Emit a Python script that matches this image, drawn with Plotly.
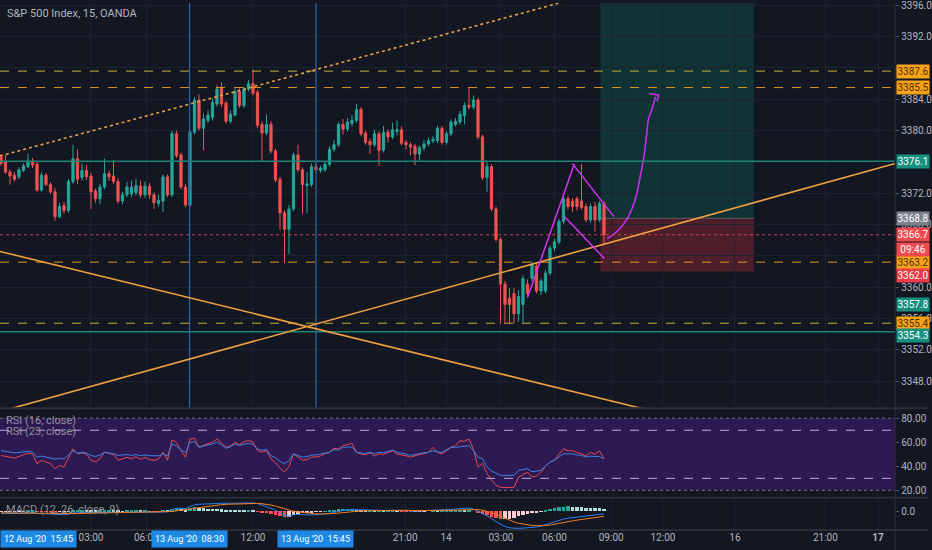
import plotly.graph_objects as go

# ---- OHLC, 15 min bars (bar index on x) ----
opens = [3376.6, 3376.0, 3374.7, 3374.3, 3374.1, 3374.9, 3375.4, 3376.1, 3375.7, 3372.4,
         3374.3, 3373.1, 3372.2, 3369.0, 3370.4, 3369.8, 3373.5, 3376.4, 3374.0, 3374.9,
         3374.2, 3372.3, 3371.3, 3372.8, 3374.5, 3374.2, 3373.5, 3371.0, 3371.8, 3371.9,
         3372.1, 3372.9, 3371.8, 3372.9, 3371.8, 3370.7, 3371.0, 3374.1, 3371.8, 3379.6,
         3376.9, 3372.8, 3370.5, 3379.8, 3383.9, 3380.3, 3381.3, 3381.7, 3383.4, 3385.5,
         3383.5, 3381.2, 3382.0, 3385.0, 3383.2, 3385.3, 3386.0, 3384.9, 3380.8, 3379.7,
         3380.8, 3377.4, 3373.8, 3369.5, 3367.4, 3370.0, 3376.9, 3375.0, 3373.0, 3373.1,
         3375.4, 3374.9, 3375.0, 3375.7, 3377.6, 3378.2, 3380.8, 3380.2, 3380.9, 3381.3,
         3382.7, 3379.7, 3378.6, 3378.2, 3379.6, 3377.5, 3379.8, 3379.2, 3379.9, 3380.1,
         3378.5, 3378.2, 3378.0, 3377.0, 3377.8, 3378.3, 3378.7, 3378.7, 3380.3, 3378.5,
         3379.6, 3380.8, 3381.1, 3381.9, 3383.2, 3383.0, 3383.9, 3379.2, 3374.0, 3375.4,
         3370.0, 3366.1, 3360.4, 3358.6, 3359.2, 3356.6, 3357.8, 3360.4, 3361.1, 3362.7,
         3359.5, 3359.5, 3361.8, 3365.0, 3365.8, 3368.4, 3371.3, 3371.0, 3371.3, 3371.0,
         3370.3, 3368.6, 3370.3, 3368.6, 3370.7]
highs = [3377.0, 3376.9, 3375.0, 3374.7, 3375.3, 3375.8, 3377.1, 3376.5, 3376.0, 3374.7,
         3374.6, 3373.4, 3372.7, 3370.8, 3370.9, 3373.8, 3378.2, 3377.6, 3375.8, 3375.6,
         3374.6, 3372.6, 3373.2, 3376.4, 3374.9, 3376.2, 3373.9, 3372.2, 3373.4, 3373.6,
         3373.8, 3373.6, 3373.5, 3373.3, 3372.1, 3371.8, 3374.4, 3374.4, 3380.0, 3380.0,
         3377.2, 3373.2, 3380.1, 3384.3, 3384.6, 3382.2, 3382.6, 3384.1, 3385.8, 3386.2,
         3383.8, 3382.6, 3385.4, 3385.4, 3385.6, 3386.5, 3387.8, 3385.2, 3381.2, 3382.1,
         3381.2, 3377.7, 3374.1, 3369.8, 3370.5, 3377.2, 3378.2, 3375.3, 3374.7, 3375.8,
         3375.8, 3375.5, 3376.0, 3378.0, 3378.8, 3381.1, 3381.5, 3381.6, 3382.0, 3383.4,
         3383.0, 3380.0, 3379.0, 3380.1, 3379.9, 3380.6, 3380.2, 3381.0, 3381.3, 3380.5,
         3378.8, 3378.5, 3378.3, 3378.1, 3378.8, 3379.1, 3379.3, 3380.6, 3380.6, 3379.9,
         3381.4, 3381.6, 3382.5, 3383.6, 3385.5, 3384.5, 3384.2, 3379.5, 3376.0, 3375.7,
         3370.3, 3366.4, 3360.8, 3359.9, 3359.9, 3359.6, 3361.5, 3361.0, 3363.3, 3363.0,
         3361.1, 3362.2, 3365.3, 3366.2, 3368.7, 3371.8, 3371.7, 3371.4, 3371.6, 3375.7,
         3370.7, 3370.7, 3370.9, 3371.0, 3371.0]
lows = [3375.5, 3374.5, 3373.1, 3373.5, 3373.8, 3374.7, 3375.2, 3375.2, 3372.2, 3372.2,
        3372.9, 3371.9, 3368.5, 3368.8, 3369.4, 3369.5, 3373.2, 3373.2, 3373.6, 3373.7,
        3370.0, 3370.8, 3370.6, 3372.5, 3373.6, 3373.2, 3370.7, 3370.6, 3371.5, 3371.5,
        3371.7, 3371.4, 3371.4, 3371.3, 3370.0, 3370.3, 3369.6, 3371.5, 3371.5, 3376.5,
        3372.5, 3370.2, 3370.3, 3379.5, 3380.0, 3377.5, 3381.0, 3381.3, 3383.1, 3383.0,
        3380.9, 3380.9, 3381.8, 3382.9, 3382.9, 3385.0, 3384.5, 3380.3, 3376.0, 3379.4,
        3377.1, 3373.4, 3367.3, 3363.1, 3364.2, 3369.7, 3374.7, 3369.4, 3369.4, 3372.8,
        3374.6, 3374.6, 3374.7, 3375.4, 3377.3, 3377.9, 3379.5, 3379.9, 3380.5, 3381.0,
        3379.3, 3378.2, 3377.0, 3377.9, 3375.5, 3377.2, 3378.5, 3378.9, 3379.4, 3378.1,
        3377.6, 3376.8, 3375.6, 3376.2, 3377.4, 3378.0, 3378.4, 3378.4, 3378.2, 3378.2,
        3379.3, 3380.5, 3380.8, 3380.8, 3382.7, 3382.7, 3378.9, 3373.7, 3372.2, 3369.7,
        3365.8, 3355.3, 3355.4, 3355.4, 3355.4, 3355.6, 3355.5, 3358.8, 3360.8, 3359.2,
        3359.0, 3359.2, 3361.5, 3364.6, 3365.5, 3368.1, 3369.9, 3369.6, 3369.8, 3369.9,
        3368.3, 3368.2, 3367.1, 3368.3, 3365.5]
closes = [3375.8, 3374.7, 3374.2, 3373.8, 3375.0, 3375.5, 3376.0, 3375.6, 3372.4, 3374.3,
          3373.1, 3372.2, 3369.0, 3370.3, 3369.8, 3373.5, 3376.4, 3373.8, 3374.9, 3374.1,
          3372.2, 3371.3, 3372.8, 3374.5, 3374.1, 3373.5, 3371.0, 3371.8, 3372.8, 3372.8,
          3373.0, 3371.8, 3372.9, 3371.8, 3370.8, 3371.1, 3374.1, 3371.8, 3379.6, 3376.8,
          3372.8, 3370.5, 3379.8, 3383.9, 3380.3, 3381.5, 3382.0, 3383.6, 3385.3, 3383.4,
          3381.2, 3382.1, 3385.0, 3383.2, 3385.3, 3386.0, 3384.8, 3380.7, 3379.7, 3380.8,
          3377.4, 3373.7, 3369.5, 3367.4, 3370.0, 3376.9, 3375.0, 3373.1, 3373.2, 3375.4,
          3375.0, 3375.2, 3375.7, 3377.6, 3378.2, 3380.8, 3380.2, 3381.1, 3381.3, 3382.7,
          3379.6, 3378.5, 3378.2, 3379.6, 3377.5, 3379.8, 3379.2, 3380.1, 3380.1, 3378.4,
          3378.2, 3377.9, 3377.0, 3377.8, 3378.3, 3378.7, 3378.9, 3380.3, 3378.5, 3379.6,
          3381.1, 3381.2, 3382.1, 3383.2, 3383.0, 3383.9, 3379.2, 3374.0, 3375.4, 3370.0,
          3366.1, 3360.4, 3357.8, 3357.8, 3356.6, 3358.8, 3361.1, 3359.2, 3362.9, 3359.5,
          3360.8, 3361.8, 3365.0, 3365.8, 3368.4, 3371.3, 3370.3, 3370.3, 3370.3, 3370.2,
          3368.6, 3370.3, 3368.6, 3370.7, 3366.7]

# ---- RSI ----
rsi_16 = [49.0, 48.0, 47.6, 46.8, 48.2, 49.5, 51.0, 50.4, 42.0, 45.0,
          43.6, 42.2, 38.0, 40.7, 39.5, 47.0, 54.5, 50.4, 51.2, 50.0,
          45.0, 43.8, 46.2, 51.7, 50.9, 49.8, 45.0, 46.0, 47.5, 46.3,
          48.0, 45.8, 47.4, 45.6, 45.0, 45.8, 51.7, 45.0, 62.0, 60.0,
          53.0, 47.6, 62.7, 63.5, 55.8, 57.5, 58.5, 60.0, 62.7, 59.0,
          55.8, 57.0, 60.0, 58.0, 60.5, 61.4, 60.2, 53.1, 51.8, 53.0,
          46.3, 43.0, 38.5, 35.2, 40.0, 50.4, 48.0, 45.0, 45.5, 47.6,
          47.8, 48.6, 50.5, 51.7, 55.0, 54.4, 57.2, 57.8, 59.0,
          51.7, 50.2, 49.6, 51.4, 48.5, 50.4, 50.0, 51.5, 53.0, 50.2,
          49.6, 48.8, 47.6, 48.9, 49.8, 50.6, 51.7, 55.8, 51.5, 50.4,
          53.2, 55.8, 57.0, 61.3, 60.8, 62.7, 54.0, 39.3, 42.4, 33.9,
          28.5, 24.3, 22.4, 22.4, 22.0, 22.4, 31.0, 33.0, 35.2, 31.0,
          32.0, 35.0, 40.0, 43.5, 45.0, 50.0, 54.5, 53.0, 53.0, 51.5,
          50.4, 48.5, 51.7, 50.0, 53.0, 46.3]
rsi_23 = [53.1, 52.4, 51.7, 51.2, 51.6, 52.0, 52.5, 51.8, 47.6, 48.5,
          47.8, 47.0, 46.0, 46.5, 46.0, 49.5, 53.1, 51.0, 51.5, 51.0,
          49.0, 48.2, 49.3, 51.7, 51.3, 50.6, 49.0, 49.2, 49.8, 49.0,
          49.8, 48.8, 49.5, 48.8, 48.5, 48.8, 50.4, 48.5, 58.6, 57.0,
          53.5, 51.7, 60.0, 60.5, 55.8, 57.0, 57.8, 58.6, 60.0, 58.0,
          55.0, 56.3, 58.6, 57.2, 58.5, 59.1, 58.2, 54.4, 53.5, 54.0,
          49.0, 47.0, 44.0, 42.1, 45.0, 50.4, 49.0, 47.6, 48.0, 49.3,
          49.5, 50.0, 51.0, 51.7, 53.8, 53.5, 55.8, 56.0, 56.0,
          51.7, 51.0, 50.6, 51.8, 50.3, 51.7, 51.5, 52.5, 53.5, 51.6,
          51.0, 50.3, 49.0, 50.0, 50.6, 51.2, 51.7, 53.0, 51.9, 51.7,
          53.5, 55.8, 55.8, 56.1, 56.3, 57.2, 53.0, 47.6, 46.3, 39.3,
          36.0, 33.9, 32.5, 32.5, 32.2, 32.5, 36.6, 37.2, 38.0, 35.5,
          36.0, 36.6, 40.0, 43.5, 45.0, 48.0, 50.4, 50.4, 50.4, 49.5,
          49.0, 47.8, 48.5, 48.2, 48.0, 46.3]

# ---- MACD (12, 26, close, 9) ----
macd_line = [-0.35, -0.38, -0.40, -0.42, -0.40, -0.36, -0.30, -0.27, -0.35, -0.38,
             -0.42, -0.46, -0.55, -0.58, -0.60, -0.50, -0.30, -0.25, -0.20, -0.18,
             -0.22, -0.26, -0.25, -0.15, -0.10, -0.10, -0.15, -0.18, -0.16, -0.14,
             -0.10, -0.12, -0.10, -0.12, -0.15, -0.16, -0.05, -0.08, 0.30, 0.55,
             0.55, 0.48, 0.85, 1.15, 1.25, 1.30, 1.35, 1.40, 1.48, 1.50,
             1.45, 1.42, 1.45, 1.45, 1.45, 1.48, 1.50, 1.35, 1.10, 0.90,
             0.55, 0.20, -0.25, -0.70, -0.85, -0.60, -0.55, -0.60, -0.65, -0.62,
             -0.58, -0.55, -0.45, -0.35, -0.15, 0.00, 0.15, 0.25, 0.35,
             0.30, 0.25, 0.20, 0.22, 0.15, 0.18, 0.18, 0.20, 0.25, 0.22,
             0.18, 0.12, 0.05, 0.05, 0.08, 0.10, 0.12, 0.20, 0.20, 0.22,
             0.28, 0.35, 0.40, 0.48, 0.52, 0.58, 0.40, 0.00, -0.30, -0.70,
             -1.20, -1.80, -2.30, -2.65, -2.90, -3.00, -3.00, -2.95, -2.90, -2.85,
             -2.75, -2.60, -2.35, -2.05, -1.80, -1.55, -1.35, -1.20, -1.10, -1.00,
             -0.92, -0.85, -0.75, -0.65, -0.50, -0.45]
signal_line = [-0.25, -0.28, -0.30, -0.32, -0.34, -0.34, -0.33, -0.32, -0.33, -0.34,
               -0.35, -0.37, -0.40, -0.44, -0.47, -0.48, -0.44, -0.40, -0.36, -0.33,
               -0.31, -0.30, -0.29, -0.26, -0.23, -0.20, -0.19, -0.19, -0.18, -0.17,
               -0.16, -0.15, -0.14, -0.13, -0.14, -0.14, -0.12, -0.11, -0.03, 0.09,
               0.18, 0.24, 0.36, 0.52, 0.66, 0.79, 0.90, 1.00, 1.10, 1.18,
               1.24, 1.27, 1.31, 1.34, 1.36, 1.38, 1.41, 1.40, 1.34, 1.25,
               1.11, 0.93, 0.70, 0.42, 0.17, 0.02, -0.09, -0.20, -0.29, -0.36,
               -0.44, -0.46, -0.46, -0.44, -0.38, -0.30, -0.21, -0.12, -0.03,
               0.04, 0.08, 0.10, 0.12, 0.13, 0.14, 0.15, 0.16, 0.18, 0.19,
               0.19, 0.18, 0.16, 0.14, 0.13, 0.12, 0.12, 0.14, 0.15, 0.16,
               0.18, 0.22, 0.26, 0.30, 0.35, 0.40, 0.40, 0.32, 0.20, 0.02,
               -0.22, -0.54, -0.89, -1.24, -1.57, -1.86, -2.09, -2.26, -2.39, -2.48,
               -2.53, -2.54, -2.50, -2.41, -2.29, -2.14, -1.98, -1.82, -1.68, -1.54,
               -1.42, -1.31, -1.20, -1.09, -0.97, -0.88]
macd_hist = [-0.10, -0.10, -0.10, -0.10, -0.06, -0.02, 0.03, 0.05, -0.02, -0.04,
             -0.07, -0.09, -0.15, -0.14, -0.13, -0.02, 0.14, 0.15, 0.16, 0.15,
             0.09, 0.04, 0.04, 0.11, 0.13, 0.10, 0.04, 0.01, 0.02, 0.03,
             0.06, 0.03, 0.04, 0.01, -0.01, -0.02, 0.07, 0.03, 0.33, 0.46,
             0.37, 0.24, 0.49, 0.63, 0.59, 0.51, 0.45, 0.40, 0.38, 0.32,
             0.21, 0.15, 0.14, 0.11, 0.09, 0.10, 0.09, -0.05, -0.24, -0.35,
             -0.56, -0.73, -0.95, -1.12, -1.02, -0.62, -0.46, -0.40, -0.36, -0.26,
             -0.14, -0.09, 0.01, 0.09, 0.23, 0.30, 0.36, 0.37, 0.38,
             0.26, 0.17, 0.10, 0.10, 0.02, 0.04, 0.03, 0.04, 0.07, 0.03,
             -0.01, -0.06, -0.11, -0.09, -0.05, -0.02, 0.00, 0.06, 0.05, 0.06,
             0.10, 0.13, 0.14, 0.18, 0.17, 0.18, 0.00, -0.32, -0.50, -0.72,
             -0.98, -1.26, -1.41, -1.41, -1.33, -1.14, -0.91, -0.69, -0.51, -0.37,
             -0.22, -0.06, 0.15, 0.36, 0.52, 0.66, 0.78, 0.84, 0.80, 0.72,
             0.64, 0.58, 0.55, 0.52, 0.50, 0.45]

# ---- time axis ----
tick_pos = [20, 32.3, 56, 89.8, 98.9, 111.1, 123, 135.6, 147.1, 163.1, 183.2, 194.9]
tick_text = ["03:00", "06:00", "12:00", "21:00", "14", "03:00", "06:00", "09:00",
             "12:00", "16", "21:00", "<b>17</b>"]
vline_pos = [41.9, 70.0]
vline_text = ["13 Aug '20  08:30", "13 Aug '20  15:45"]
offscreen_label = "12 Aug '20  15:45"

# ---- drawings / levels ----
dashed_levels = [3387.6, 3385.5, 3363.2, 3355.4]
dashed_colors = ["#c2ad3c", "#e3961f", "#e3961f", "#c2ad3c"]
teal_levels = [3376.1, 3354.3]
last_price = 3366.7
entry_price, stop_price = 3368.8, 3362.0
countdown = "09:46"
# value, box colour, text colour, pixel nudge (the scale pushes crowded boxes apart)
scale_labels = [(3387.6, "#f7a21b", "#4b3206", 0), (3385.5, "#f7a21b", "#4b3206", 0),
                (3376.1, "#16907e", "white", 0), (3368.8, "#7f828c", "white", 0),
                (3366.7, "#ef4a50", "white", 0), (3363.2, "#f7a21b", "#4b3206", 0),
                (3362.0, "#ef3b45", "white", -4), (3357.8, "#16907e", "white", 0),
                (3355.4, "#f7a21b", "#4b3206", 0), (3354.3, "#16907e", "white", -4)]
price_ticks = list(range(3348, 3397, 4))
hidden_ticks = [3388, 3376, 3364]   # sit under the level boxes

BG = "#131722"
GRID = "#1d2130"
TXT = "#b2b5be"
XR = [-0.22, 198.7]
XD = [0, 899 / 932]

fig = go.Figure()

fig.add_trace(go.Candlestick(
    x=list(range(len(closes))), open=opens, high=highs, low=lows, close=closes,
    increasing=dict(line=dict(color="#26a69a", width=1), fillcolor="#26a69a"),
    decreasing=dict(line=dict(color="#ef5350", width=1), fillcolor="#ef5350"),
    whiskerwidth=0, xaxis="x", yaxis="y", hoverinfo="skip"))

# curved projection arrow
arrow_x = [134.7, 136.9, 139.2, 141.0, 142.1, 142.8, 143.2, 143.6, 143.9, 144.7, 145.2, 145.4]
arrow_y = [3366.2, 3367.1, 3368.8, 3371.3, 3374.3, 3376.4, 3378.1, 3380.2, 3381.5, 3382.8, 3383.8, 3384.3]
fig.add_trace(go.Scatter(x=arrow_x, y=arrow_y, mode="lines",
                         line=dict(color="#c42fe6", width=1.6, shape="spline"),
                         xaxis="x", yaxis="y", hoverinfo="skip"))
fig.add_trace(go.Scatter(x=[144.0, 146.1, 145.8], y=[3384.7, 3384.57, 3383.75], mode="lines",
                         line=dict(color="#c42fe6", width=1.6),
                         xaxis="x", yaxis="y", hoverinfo="skip"))

xs = list(range(len(rsi_16)))
fig.add_trace(go.Scatter(x=xs, y=rsi_16, mode="lines", line=dict(color="#e8474d", width=1),
                         xaxis="x2", yaxis="y2", hoverinfo="skip"))
fig.add_trace(go.Scatter(x=xs, y=rsi_23, mode="lines", line=dict(color="#3b82e0", width=1),
                         xaxis="x2", yaxis="y2", hoverinfo="skip"))

hist_colors = []
for i, h in enumerate(macd_hist):
    prev = macd_hist[i - 1] if i else h
    if h >= 0:
        hist_colors.append("#26a69a" if h >= prev else "#b2dfdb")
    else:
        hist_colors.append("#ff5252" if h < prev else "#ffcdd2")
fig.add_trace(go.Bar(x=xs, y=macd_hist, marker=dict(color=hist_colors, line=dict(width=0)),
                     width=0.72, xaxis="x3", yaxis="y3", hoverinfo="skip"))
fig.add_trace(go.Scatter(x=xs, y=macd_line, mode="lines", line=dict(color="#2a7ff0", width=1),
                         xaxis="x3", yaxis="y3", hoverinfo="skip"))
fig.add_trace(go.Scatter(x=xs, y=signal_line, mode="lines", line=dict(color="#f57c1f", width=1),
                         xaxis="x3", yaxis="y3", hoverinfo="skip"))

shapes = []
# RSI band
shapes.append(dict(type="rect", xref="x2 domain", yref="y2", x0=0, x1=1, y0=20, y1=80,
                   fillcolor="#2e1a52", line=dict(width=0), layer="below"))
for lv in [80, 20]:
    shapes.append(dict(type="line", xref="x2 domain", yref="y2", x0=0, x1=1, y0=lv, y1=lv,
                       line=dict(color="#6d6f7a", width=1, dash="dot")))
for lv in [70, 30]:
    shapes.append(dict(type="line", xref="x2 domain", yref="y2", x0=0, x1=1, y0=lv, y1=lv,
                       line=dict(color="#b9a8df", width=1, dash="dash")))

# position tool
shapes.append(dict(type="rect", xref="x", yref="y", x0=133.2, x1=167.3, y0=entry_price, y1=3400,
                   fillcolor="rgba(8,153,129,0.22)", line=dict(width=0), layer="below"))
shapes.append(dict(type="rect", xref="x", yref="y", x0=133.2, x1=167.3, y0=stop_price, y1=entry_price,
                   fillcolor="rgba(242,54,69,0.26)", line=dict(width=0), layer="below"))
shapes.append(dict(type="line", xref="x", yref="y", x0=133.2, x1=167.3, y0=entry_price, y1=entry_price,
                   line=dict(color="rgba(160,160,170,0.45)", width=1)))

# horizontal levels
for lv, c in zip(dashed_levels, dashed_colors):
    shapes.append(dict(type="line", xref="x domain", yref="y", x0=0, x1=1, y0=lv, y1=lv,
                       line=dict(color=c, width=1, dash="dash")))
for lv in teal_levels:
    shapes.append(dict(type="line", xref="x domain", yref="y", x0=0, x1=1, y0=lv, y1=lv,
                       line=dict(color="#1c8474", width=1.5)))
shapes.append(dict(type="line", xref="x domain", yref="y", x0=0, x1=1, y0=last_price, y1=last_price,
                   line=dict(color="#c8424a", width=1, dash="dot")))

# vertical time markers
for vx in vline_pos:
    shapes.append(dict(type="line", xref="x", yref="y domain", x0=vx, x1=vx, y0=0, y1=1,
                       line=dict(color="#2f64b4", width=1.2)))

# trend lines
trend_lines = [
    ((-0.22, 3376.76), (130.0, 3397.23), "#e9a04a", "dot", 1.6),
    ((-0.22, 3364.57), (145.8, 3344.04), "#f0a040", "solid", 1.6),
    ((-0.22, 3344.11), (198.7, 3375.80), "#f0a040", "solid", 1.6),
    ((117.0, 3358.64), (127.4, 3375.75), "#d633f0", "solid", 1.5),
    ((127.0, 3375.78), (136.2, 3369.02), "#d633f0", "solid", 1.5),
    ((125.2, 3369.02), (134.1, 3363.65), "#d633f0", "solid", 1.5),
]
for (x0, y0), (x1, y1), c, d, w in trend_lines:
    shapes.append(dict(type="line", xref="x", yref="y", x0=x0, y0=y0, x1=x1, y1=y1,
                       line=dict(color=c, width=w, dash=d)))

# panel separators and right border
for py in [1 - 407.5 / 550, 1 - 497.5 / 550, 1 - 530 / 550]:
    shapes.append(dict(type="line", xref="paper", yref="paper", x0=0, x1=1, y0=py, y1=py,
                       line=dict(color="#2a2e39", width=2)))
shapes.append(dict(type="line", xref="paper", yref="paper", x0=XD[1], x1=XD[1], y0=0, y1=1,
                   line=dict(color="#2a2e39", width=1)))

annotations = []
annotations.append(dict(text="S&P 500 Index, 15, OANDA", xref="paper", yref="paper",
                        x=0.005, y=1 - 11 / 550, xanchor="left", yanchor="middle",
                        showarrow=False, font=dict(size=11, color=TXT)))
for txt, py in [("RSI (16, close)", 420), ("RSI (23, close)", 431), ("MACD (12, 26, close, 9)", 509)]:
    annotations.append(dict(text=txt, xref="paper", yref="paper", x=0.004, y=1 - py / 550,
                            xanchor="left", yanchor="middle", showarrow=False,
                            font=dict(size=11, color="#8f929c")))
for val, bg, fc, nudge in scale_labels:
    annotations.append(dict(text=f"{val:.1f}", xref="paper", yref="y", x=XD[1] + 0.001, y=val,
                            yshift=nudge, xanchor="left", yanchor="middle", showarrow=False,
                            bgcolor=bg, width=30, borderpad=1, font=dict(size=10, color=fc)))
annotations.append(dict(text=countdown, xref="paper", yref="y", x=XD[1] + 0.001, y=last_price,
                        yshift=-15, xanchor="left", yanchor="middle", showarrow=False,
                        bgcolor="#ef4a50", width=30, borderpad=1, font=dict(size=10, color="white")))
for vx, txt in zip(vline_pos, vline_text):
    annotations.append(dict(text=txt, xref="x3", yref="paper", x=vx, y=1 - 539 / 550,
                            xanchor="center", yanchor="middle", showarrow=False,
                            bgcolor="#1e88e5", borderpad=3,
                            font=dict(size=9, color="white")))
annotations.append(dict(text=offscreen_label, xref="paper", yref="paper", x=0, y=1 - 539 / 550,
                        xanchor="left", yanchor="middle", showarrow=False,
                        bgcolor="#1e88e5", borderpad=3,
                        font=dict(size=9, color="white")))

xcommon = dict(range=XR, domain=XD, showgrid=True, gridcolor=GRID, zeroline=False,
               tickvals=tick_pos, showline=False, fixedrange=True)

fig.update_layout(
    width=932, height=550, autosize=False,
    margin=dict(l=0, r=0, t=0, b=0),
    paper_bgcolor=BG, plot_bgcolor=BG,
    font=dict(family="Roboto", color=TXT, size=10),
    showlegend=False, hovermode=False, dragmode=False,
    shapes=shapes, annotations=annotations,
    xaxis=dict(xcommon, anchor="y", showticklabels=False, rangeslider=dict(visible=False)),
    xaxis2=dict(xcommon, anchor="y2", showticklabels=False, showgrid=False, matches="x"),
    xaxis3=dict(xcommon, anchor="y3", ticktext=tick_text, ticks="",
                tickfont=dict(size=10, color=TXT), matches="x"),
    yaxis=dict(domain=[1 - 407 / 550, 1], range=[3344.6, 3396.3], side="right", anchor="x",
               tickvals=price_ticks,
               ticktext=["" if t in hidden_ticks else f"{t:.1f}" for t in price_ticks],
               gridcolor=GRID, zeroline=False, ticks="outside", ticklen=3, tickcolor="#50535e",
               tickfont=dict(size=10, color=TXT), ticklabeloverflow="allow", fixedrange=True),
    yaxis2=dict(domain=[1 - 497 / 550, 1 - 408 / 550], range=[14.2, 87.9], side="right",
                anchor="x2", tickvals=[20, 40, 60, 80], tickformat=".2f", showgrid=False,
                zeroline=False, ticks="outside", ticklen=3, tickcolor="#50535e",
                tickfont=dict(size=10, color=TXT), fixedrange=True),
    yaxis3=dict(domain=[1 - 530 / 550, 1 - 498 / 550], range=[-3.3, 2.3], side="right",
                anchor="x3", tickvals=[0], tickformat=".1f", showgrid=False, zeroline=False,
                ticks="outside", ticklen=3, tickcolor="#50535e",
                tickfont=dict(size=10, color=TXT), fixedrange=True),
    bargap=0,
)

# page body has a default 8px margin; drop it so the chart sits at the window corner
fig.write_html("out.html", config={"displayModeBar": False},
               post_script="document.body.style.margin='0px';")
